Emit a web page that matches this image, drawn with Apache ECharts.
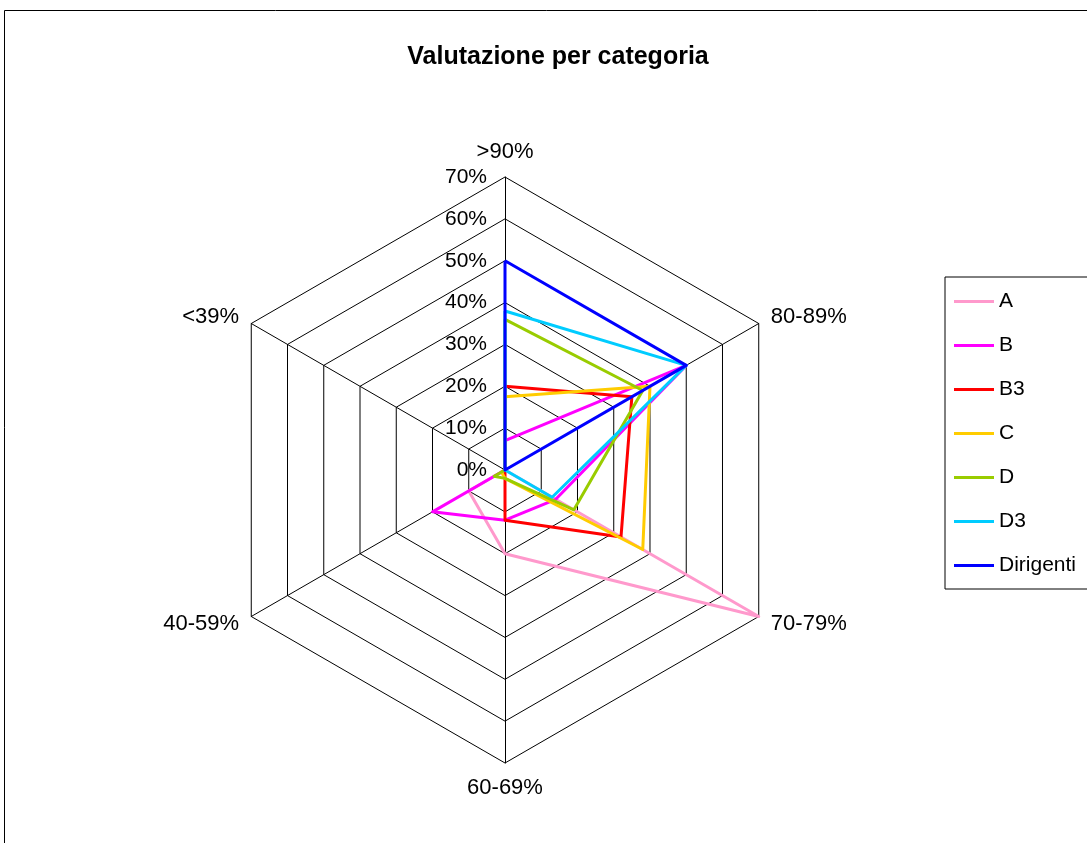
<!DOCTYPE html>
<html>
<head>
<meta charset="utf-8">
<title>Valutazione per categoria</title>
<script src="https://cdn.jsdelivr.net/npm/echarts@6/dist/echarts.min.js"></script>
<style>
    html, body { margin: 0; padding: 0; background: #fff; }
    #chart-box { width: 1087px; height: 843px; }
</style>
</head>
<body>
<div id="chart-box"></div>
<script>
    // fasce di valutazione, in senso orario partendo dall'alto
    var categories = ['>90%', '80-89%', '70-79%', '60-69%', '40-59%', '<39%'];
    var seriesNames = ['A', 'B', 'B3', 'C', 'D', 'D3', 'Dirigenti'];
    // percentuali (stesso ordine delle categorie)
    var valA         = [0, 0, 70, 20, 10, 0];
    var valB         = [7, 50, 14, 12, 20, 0];
    var valB3        = [20, 35, 32, 12, 0, 0];
    var valC         = [17.5, 40, 38, 2, 1, 0];
    var valD         = [36, 38, 19, 2, 3, 0];
    var valD3        = [38, 50, 13, 0, 0, 0];
    var valDirigenti = [50, 50, 0, 0, 0, 0];
    var seriesValues = [valA, valB, valB3, valC, valD, valD3, valDirigenti];
    var colors = ['#FF99CC', '#FF00FF', '#FF0000', '#FFCC00', '#99CC00', '#00CCFF', '#0000FF'];
    var maxValue = 70;

    // echarts dispone gli indicatori in senso antiorario: riordino
    var order = [0, 5, 4, 3, 2, 1];

    var indicators = order.map(function (i) {
        var ind = { name: categories[i], max: maxValue, min: 0 };
        // etichette percentuali solo sull'asse verticale
        if (i === 0) {
            ind.axisLabel = { show: true };
        }
        return ind;
    });

    var series = [{
        type: 'radar',
        symbol: 'none',
        silent: true,
        data: seriesNames.map(function (n, k) {
            return {
                name: n,
                value: order.map(function (i) { return seriesValues[k][i]; }),
                lineStyle: { color: colors[k], width: 3 },
                itemStyle: { color: colors[k] }
            };
        })
    }];

    var font = '"Liberation Sans", Arial, sans-serif';

    var chart = echarts.init(document.getElementById('chart-box'));
    var options = {
        backgroundColor: '#fff',
        animation: false,
        textStyle: { fontFamily: font },
        title: {
            text: 'Valutazione per categoria',
            left: 553,
            top: 40,
            textAlign: 'center',
            textStyle: { fontSize: 25, fontWeight: 'bold', color: '#000', fontFamily: font }
        },
        legend: {
            orient: 'vertical',
            left: 945,
            top: 277,
            padding: [14, 12, 13, 9],
            icon: 'rect',
            itemWidth: 40,
            itemHeight: 3,
            itemGap: 23,
            borderColor: '#000',
            borderWidth: 1,
            borderRadius: 0,
            data: seriesNames,
            textStyle: { fontSize: 21, color: '#000', fontFamily: font, lineHeight: 21 }
        },
        radar: {
            center: [505, 470],
            radius: 293,
            startAngle: 90,
            shape: 'polygon',
            splitNumber: 7,
            indicator: indicators,
            nameGap: 14,
            axisName: { color: '#000', fontSize: 22, fontFamily: font },
            axisLine: { lineStyle: { color: '#000', width: 1 } },
            splitLine: { lineStyle: { color: '#000', width: 1 } },
            splitArea: { show: false },
            axisTick: { show: false },
            axisLabel: {
                show: false,
                margin: 18,
                color: '#000',
                fontSize: 21,
                fontFamily: font,
                formatter: '{value}%'
            }
        },
        graphic: [{
            type: 'rect',
            silent: true,
            shape: { x: 4.5, y: 10.5, width: 1200, height: 1000 },
            style: { fill: 'none', stroke: '#000', lineWidth: 1 }
        }],
        series: series
    };
    chart.setOption(options);
</script>
</body>
</html>
